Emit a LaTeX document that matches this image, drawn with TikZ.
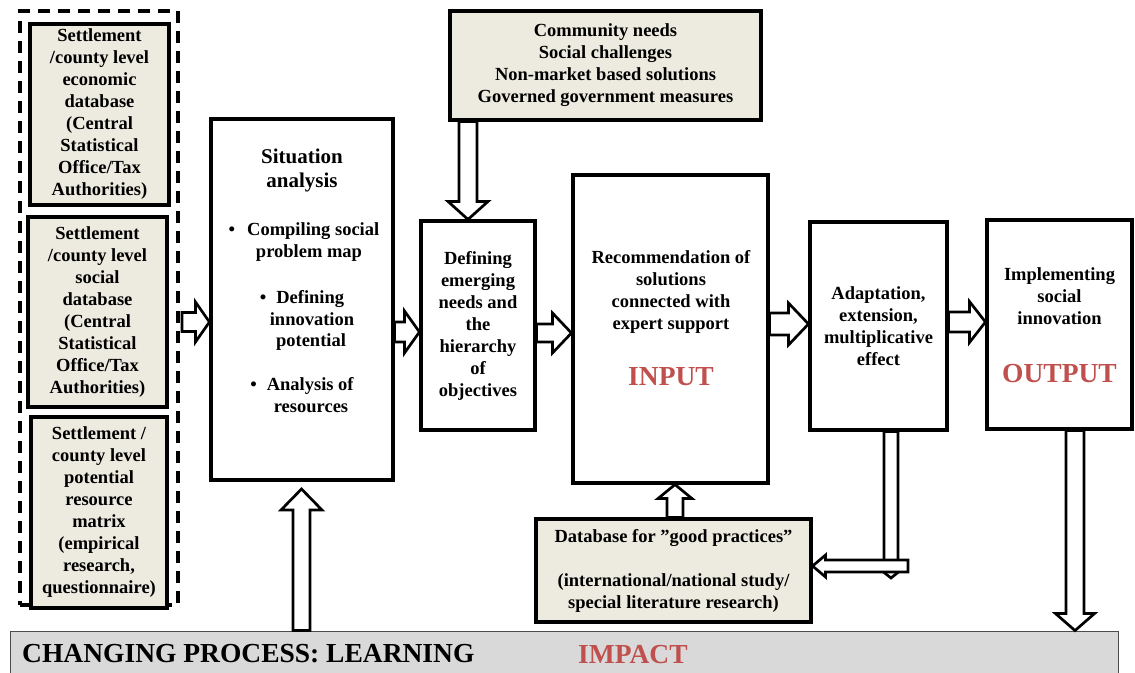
\documentclass[tikz,border=0pt]{standalone}
\usepackage{fontspec}
\setmainfont{Liberation Serif}
\usetikzlibrary{calc}
\definecolor{beige}{HTML}{EDEBE0}
\definecolor{redt}{HTML}{C0504D}
\definecolor{barg}{HTML}{D9D9D9}
\newcommand\dgbody{\bfseries\fontsize{18.5}{22}\selectfont}
\newcommand\dgtitle{\bfseries\fontsize{21}{25}\selectfont}
\newcommand\dgbig{\bfseries\fontsize{27.5}{30}\selectfont}
\tikzset{
  box/.style={draw, line width=3.1pt, inner sep=0pt, align=center, font=\dgbody},
  dbox/.style={box, fill=beige},
  grpbox/.style={draw, line width=3.1pt, dash pattern=on 12pt off 8pt, inner sep=0pt},
  barbox/.style={draw=black!70, line width=0.9pt, fill=barg, inner sep=0pt},
  txt/.style={inner sep=0pt, font=\dgbody},
  ttl/.style={inner sep=0pt, font=\dgtitle},
  bigtxt/.style={inner sep=0pt, font=\dgbig},
  barrow/.style={draw, line width=2.7pt, fill=white, line join=miter}
}
% right-pointing block arrow: from, to, shaft half width, head half width, head length
\newcommand{\arrR}[5]{\draw[barrow] let \p1=(#1), \p2=(#2) in
  (\x1,\y1+#3) -- (\x2-#5,\y1+#3) -- (\x2-#5,\y1+#4) -- (\x2,\y1) -- (\x2-#5,\y1-#4) -- (\x2-#5,\y1-#3) -- (\x1,\y1-#3) -- cycle;}
\newcommand{\arrL}[5]{\draw[barrow] let \p1=(#1), \p2=(#2) in
  (\x1,\y1+#3) -- (\x2+#5,\y1+#3) -- (\x2+#5,\y1+#4) -- (\x2,\y1) -- (\x2+#5,\y1-#4) -- (\x2+#5,\y1-#3) -- (\x1,\y1-#3) -- cycle;}
\newcommand{\arrD}[5]{\draw[barrow] let \p1=(#1), \p2=(#2) in
  (\x1-#3,\y1) -- (\x1-#3,\y2+#5) -- (\x1-#4,\y2+#5) -- (\x1,\y2) -- (\x1+#4,\y2+#5) -- (\x1+#3,\y2+#5) -- (\x1+#3,\y1) -- cycle;}
\newcommand{\arrU}[5]{\draw[barrow] let \p1=(#1), \p2=(#2) in
  (\x1-#3,\y1) -- (\x1-#3,\y2-#5) -- (\x1-#4,\y2-#5) -- (\x1,\y2) -- (\x1+#4,\y2-#5) -- (\x1+#3,\y2-#5) -- (\x1+#3,\y1) -- cycle;}
\begin{document}
\begin{tikzpicture}[x=1pt,y=-1pt]
\useasboundingbox[fill=white] (0,0) rectangle (1135,672);

% bottom bar
\node[barbox, minimum width=1108, minimum height=50] (bar) at (564,656) {};
\node[bigtxt, anchor=base west] (barL) at (22,662) {CHANGING PROCESS: LEARNING};
\node[bigtxt, text=redt, anchor=base west] (barI) at (578,663) {IMPACT};

% dashed group with data sources
\node[grpbox, minimum width=158, minimum height=594] (grp) at (99,308) {};
\node[dbox, minimum width=139, minimum height=181] (b1) at (99.5,114.5)
  {Settlement\\/county level\\economic\\database\\(Central\\Statistical\\Office/Tax\\Authorities)};
\node[dbox, minimum width=139, minimum height=190] (b2) at (97.5,312)
  {Settlement\\/county level\\social\\database\\(Central\\Statistical\\Office/Tax\\Authorities)};
\node[dbox, minimum width=136, minimum height=191] (b3) at (99,512.5)
  {Settlement /\\county level\\potential\\resource\\matrix\\(empirical\\research,\\questionnaire)};

% main boxes
\node[box, minimum width=182, minimum height=361] (sit) at (302,299.5) {};
\node[ttl, anchor=base] (sit1) at (302,163) {Situation};
\node[ttl, anchor=base] (sit2) at (302,187) {analysis};
\node[txt, anchor=base] (sit3) at (304,235) {\textbullet\hspace{12pt}Compiling social};
\node[txt, anchor=base] (sit4) at (309,257) {problem map};
\node[txt, anchor=base] (sit5) at (302,303) {\textbullet\hspace{10pt}Defining};
\node[txt, anchor=base] (sit6) at (312,325) {innovation};
\node[txt, anchor=base] (sit7) at (311,346) {potential};
\node[txt, anchor=base] (sit8) at (302,390) {\textbullet\hspace{10pt}Analysis of};
\node[txt, anchor=base] (sit9) at (311,412) {resources};

\node[box, minimum width=114, minimum height=209] (def) at (478,325.5)
  {Defining\\emerging\\needs and\\the\\hierarchy\\of\\objectives};
\node[dbox, minimum width=311, minimum height=109] (top) at (605.5,65.5)
  {Community needs\\Social challenges\\Non-market based solutions\\Governed government measures};

\node[box, minimum width=195, minimum height=308] (rec) at (670.5,329) {};
\node[txt, anchor=base] (rec1) at (671,263) {Recommendation of};
\node[txt, anchor=base] (rec2) at (671,285) {solutions};
\node[txt, anchor=base] (rec3) at (671,307) {connected with};
\node[txt, anchor=base] (rec4) at (671,329) {expert support};
\node[bigtxt, text=redt, anchor=base] (rec5) at (671,385) {INPUT};

\node[box, minimum width=137, minimum height=208] (adp) at (878.5,326)
  {Adaptation,\\extension,\\multiplicative\\effect};

\node[box, minimum width=145, minimum height=209] (imp) at (1059.5,324.5) {};
\node[txt, anchor=base] (imp1) at (1059.5,280) {Implementing};
\node[txt, anchor=base] (imp2) at (1059.5,302) {social};
\node[txt, anchor=base] (imp3) at (1059.5,324) {innovation};
\node[bigtxt, text=redt, anchor=base] (imp4) at (1059.5,382) {OUTPUT};

\node[dbox, minimum width=275, minimum height=103] (db) at (673.5,570.5)
  {Database for ”good practices”\\[22pt](international/national study/\\special literature research)};

% block arrows
\coordinate (g1) at (182,322);
\arrR{g1}{sit.west |- g1}{9.5pt}{20pt}{14pt}
\coordinate (g2) at (0,332);
\arrR{sit.east |- g2}{def.west |- g2}{10pt}{21pt}{15pt}
\coordinate (g3) at (0,333);
\arrR{def.east |- g3}{rec.west |- g3}{9pt}{20pt}{19pt}
\coordinate (g4) at (0,324);
\arrR{rec.east |- g4}{adp.west |- g4}{11pt}{21pt}{20pt}
\coordinate (g5) at (0,322);
\arrR{adp.east |- g5}{imp.west |- g5}{10pt}{20.5pt}{16pt}
\coordinate (g6) at (468,0);
\arrD{top.south -| g6}{def.north -| g6}{9pt}{20pt}{18pt}
\coordinate (g7) at (301.5,489);
\arrU{bar.north -| g7}{g7}{8.5pt}{20.5pt}{21pt}
\coordinate (g8) at (675,0);
\arrU{db.north -| g8}{rec.south -| g8}{8pt}{17pt}{14pt}
\coordinate (g9) at (891,578);
\arrD{adp.south -| g9}{g9}{7pt}{10pt}{8pt}
\coordinate (g10) at (908,566);
\arrL{g10}{db.east |- g10}{6pt}{11pt}{13pt}
\coordinate (g11) at (1075,0);
\arrD{imp.south -| g11}{bar.north -| g11}{9pt}{19.5pt}{17pt}
\end{tikzpicture}
\end{document}
